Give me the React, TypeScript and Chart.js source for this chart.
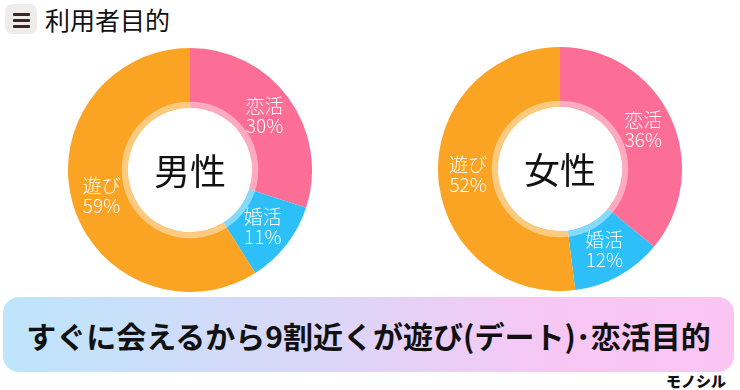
import React, { useEffect, useRef } from "react";
import { Chart, registerables } from "chart.js";

Chart.register(...registerables);

const categories = ["恋活", "婚活", "遊び"];
const maleValues = [30, 11, 59];
const femaleValues = [36, 12, 52];
const chartTitles = ["男性", "女性"];
const colors = ["#fd6e96", "#2cbff8", "#fba423"];
const FONT = "'Noto Sans CJK JP', 'Noto Sans', sans-serif";

const donutPlugin = {
  id: "donutDeco",
  afterDatasetsDraw(chart: any) {
    const ctx = chart.ctx;
    const meta = chart.getDatasetMeta(0);
    const first = meta.data[0];
    if (!first) return;
    const cx = first.x;
    const cy = first.y;
    const inner = first.innerRadius;
    // pale ring
    ctx.save();
    ctx.beginPath();
    ctx.arc(cx, cy, inner + 3, 0, Math.PI * 2);
    ctx.lineWidth = 6;
    ctx.strokeStyle = "rgba(255,255,255,0.42)";
    ctx.stroke();
    // labels
    const vals = chart.data.datasets[0].data;
    const labels = chart.data.labels;
    ctx.fillStyle = "#ffffff";
    ctx.textAlign = "center";
    ctx.textBaseline = "middle";
    ctx.font = `300 19px ${FONT}`;
    meta.data.forEach((arc: any, i: number) => {
      const p = arc.getCenterPoint();
      ctx.fillText(labels[i], p.x, p.y - 10);
      ctx.fillText(`${vals[i]}%`, p.x, p.y + 10);
    });
    // center text
    ctx.fillStyle = "#111111";
    ctx.font = `36px ${FONT}`;
    ctx.fillText(chart.options.plugins.centerTitle, cx, cy + 1);
    ctx.restore();
  },
};

function Donut({ values, title }: { values: number[]; title: string }) {
  const ref = useRef<HTMLCanvasElement>(null);
  useEffect(() => {
    const chart = new Chart(ref.current!, {
      type: "doughnut",
      data: {
        labels: categories,
        datasets: [
          {
            data: values,
            backgroundColor: colors,
            borderWidth: 0,
          },
        ],
      },
      options: {
        animation: false,
        responsive: false,
        cutout: "51%",
        layout: { padding: 0 },
        plugins: {
          legend: { display: false },
          tooltip: { enabled: false },
          centerTitle: title,
        } as any,
      },
      plugins: [donutPlugin],
    });
    return () => chart.destroy();
  }, [values, title]);
  return <canvas ref={ref} width={244} height={244} style={{ width: 244, height: 244 }} />;
}

export default function App() {
  useEffect(() => {
    document.body.style.margin = "0";
  }, []);
  return (
    <div
      style={{
        position: "fixed",
        left: 0,
        top: 0,
        width: 740,
        height: 390,
        background: "#ffffff",
        overflow: "hidden",
        fontFamily: FONT,
      }}
    >
      <div
        style={{
          position: "absolute",
          left: 5,
          top: 4,
          width: 32,
          height: 30,
          borderRadius: 7,
          background: "#efecec",
        }}
      >
        {[9, 15, 21].map((t) => (
          <div
            key={t}
            style={{
              position: "absolute",
              left: 8,
              top: t,
              width: 17,
              height: 2.5,
              background: "#3a2626",
              borderRadius: 1,
            }}
          />
        ))}
      </div>
      <div
        style={{
          position: "absolute",
          left: 45,
          top: 3,
          fontSize: 25,
          lineHeight: "32px",
          color: "#111",
        }}
      >
        利用者目的
      </div>
      <div style={{ position: "absolute", left: 68, top: 48 }}>
        <Donut values={maleValues} title={chartTitles[0]} />
      </div>
      <div style={{ position: "absolute", left: 438, top: 47 }}>
        <Donut values={femaleValues} title={chartTitles[1]} />
      </div>
      <div
        style={{
          position: "absolute",
          left: 3,
          top: 297,
          width: 731,
          height: 75,
          borderRadius: 16,
          background: "linear-gradient(90deg, #bde5fb 0%, #dcd6f8 45%, #f7c7f4 75%, #fbc5f2 100%)",
          display: "flex",
          alignItems: "center",
          justifyContent: "center",
          fontSize: 30,
          fontWeight: 700,
          color: "#111",
          letterSpacing: 0,
        }}
      >
        すぐに会えるから9割近くが遊び(デート)･恋活目的
      </div>
      <div
        style={{
          position: "absolute",
          right: 14,
          top: 372,
          fontSize: 15,
          fontWeight: 900,
          color: "#111",
          lineHeight: "18px",
        }}
      >
        モノシル
      </div>
    </div>
  );
}
